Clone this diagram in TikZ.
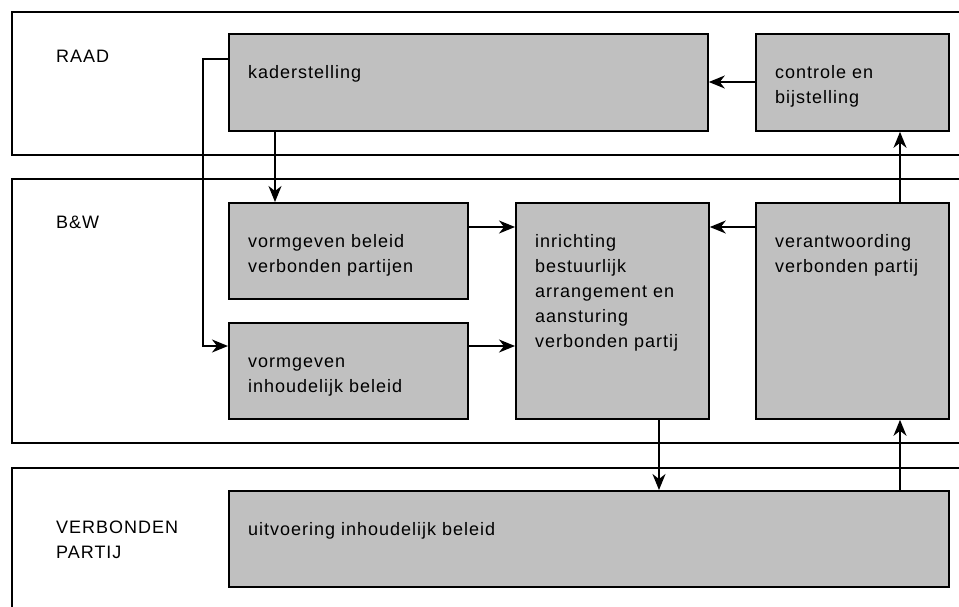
\documentclass[tikz,border=0pt]{standalone}
\usepackage{fontspec}
\setmainfont[LetterSpace=5.5]{Liberation Sans}
\usetikzlibrary{arrows.meta}

\definecolor{boxgray}{HTML}{C0C0C0}

\tikzset{
  lane/.style={draw, line width=1.8pt, fill=white, anchor=north west, inner sep=0pt},
  box/.style={draw, line width=1.8pt, fill=boxgray, anchor=north west, inner sep=0pt},
  txt/.style={anchor=base west, align=left, inner sep=0pt, font=\fontsize{18}{25}\selectfont},
  flow/.style={line width=1.6pt, -{Stealth[length=16pt, width=13pt, inset=5pt]}},
}

\begin{document}
\begin{tikzpicture}[x=1pt, y=-1pt]

  \path[use as bounding box, clip] (0,0) rectangle (959,606);

  % Lanes
  \node[lane, minimum width=990pt, minimum height=143pt] (raad) at (11,11) {};
  \node[lane, minimum width=990pt, minimum height=264pt] (bw) at (11,178) {};
  \node[lane, minimum width=990pt, minimum height=170pt] (vp) at (11,467) {};

  % Lane labels (base = last line)
  \node[txt] (raadlbl) at (56,62) {RAAD};
  \node[txt] (bwlbl) at (56,228) {B\&W};
  \node[txt] (vplbl) at (56,558) {VERBONDEN\\PARTIJ};

  % Boxes
  \node[box, minimum width=479pt, minimum height=97pt] (kader) at (228,33) {};
  \node[box, minimum width=193pt, minimum height=97pt] (controle) at (755,33) {};
  \node[box, minimum width=239pt, minimum height=96pt] (vormbeleid) at (228,202) {};
  \node[box, minimum width=239pt, minimum height=96pt] (vorminhoud) at (228,322) {};
  \node[box, minimum width=193pt, minimum height=216pt] (inrichting) at (515,202) {};
  \node[box, minimum width=193pt, minimum height=216pt] (verantw) at (755,202) {};
  \node[box, minimum width=720pt, minimum height=96pt] (uitvoering) at (228,490) {};

  % Box texts
  \node[txt] (kadertxt) at ([shift={(20,45)}]kader.north west) {kaderstelling};
  \node[txt] (controletxt) at ([shift={(20,70)}]controle.north west) {controle en\\bijstelling};
  \node[txt] (vormbeleidtxt) at ([shift={(20,70)}]vormbeleid.north west) {vormgeven beleid\\verbonden partijen};
  \node[txt] (vorminhoudtxt) at ([shift={(20,70)}]vorminhoud.north west) {vormgeven\\inhoudelijk beleid};
  \node[txt] (inrichtingtxt) at ([shift={(20,145)}]inrichting.north west) {inrichting\\bestuurlijk\\arrangement en\\aansturing\\verbonden partij};
  \node[txt] (verantwtxt) at ([shift={(20,70)}]verantw.north west) {verantwoording\\verbonden partij};
  \node[txt] (uitvoeringtxt) at ([shift={(20,45)}]uitvoering.north west) {uitvoering inhoudelijk beleid};

  % Arrows
  \draw[flow] (controle.west |- 0,82) -- (kader.east |- 0,82);
  \draw[flow] (kader.south -| 275,0) -- (vormbeleid.north -| 275,0);
  \draw[flow] (kader.west |- 0,59) -| (203,346) -- (vorminhoud.west |- 0,346);
  \draw[flow] (vormbeleid.east |- 0,227) -- (inrichting.west |- 0,227);
  \draw[flow] (vorminhoud.east |- 0,346) -- (inrichting.west |- 0,346);
  \draw[flow] (verantw.west |- 0,227) -- (inrichting.east |- 0,227);
  \draw[flow] (inrichting.south -| 659,0) -- (uitvoering.north -| 659,0);
  \draw[flow] (uitvoering.north -| 900,0) -- (verantw.south -| 900,0);
  \draw[flow] (verantw.north -| 900,0) -- (controle.south -| 900,0);

\end{tikzpicture}
\end{document}
